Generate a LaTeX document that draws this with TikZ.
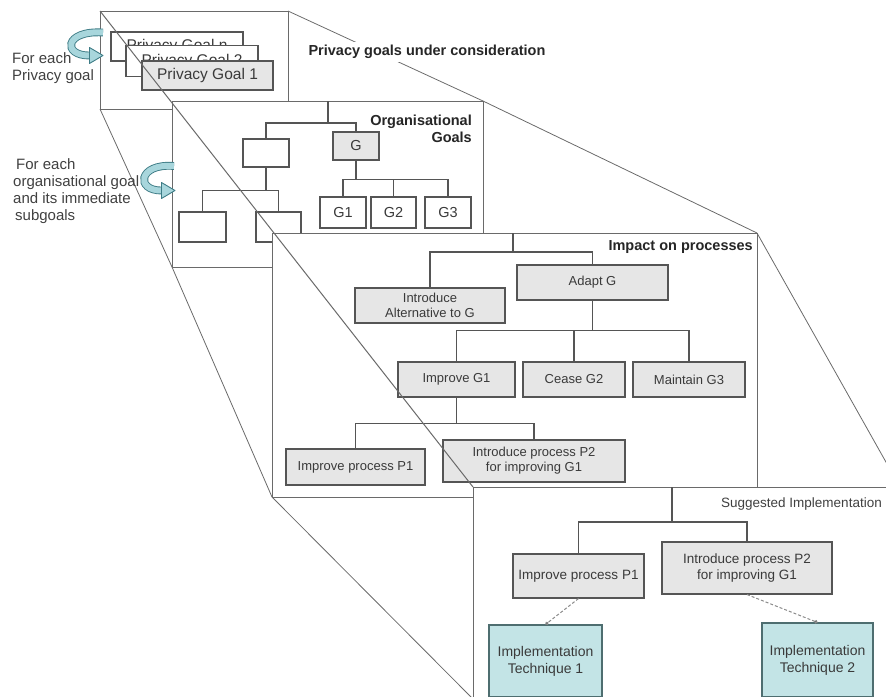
\documentclass[tikz,border=0pt]{standalone}
\usepackage{fontspec}
\setmainfont{Liberation Sans}
\usetikzlibrary{arrows.meta}

\definecolor{boxfill}{HTML}{E6E6E6}
\definecolor{boxline}{HTML}{555555}
\definecolor{panelline}{HTML}{6A6A6A}
\definecolor{txt}{HTML}{3A3A3A}
\definecolor{techfill}{HTML}{C3E4E6}
\definecolor{techline}{HTML}{4E6E70}
\definecolor{loopfill}{HTML}{A8D6DC}
\definecolor{loopline}{HTML}{3E7C86}

\tikzset{
  panel/.style={draw=panelline, fill=white, line width=1pt, inner sep=0pt, outer sep=0pt},
  proj/.style={draw=panelline, line width=0.8pt},
  link/.style={draw=boxline, line width=1.1pt},
  dashlink/.style={draw=black!45, line width=1pt, dash pattern=on 3pt off 2pt,
                   -{Circle[length=3.5pt, fill=black]}},
  gbox/.style={draw=boxline, fill=boxfill, line width=1.1pt, inner sep=0pt,
               align=center, text=txt, font=\fontsize{13}{15}\selectfont},
  wbox/.style={gbox, fill=white},
  bigtext/.style={font=\fontsize{15.5}{18}\selectfont},
  gtext/.style={font=\fontsize{14.5}{17}\selectfont},
  lowtext/.style={font=\fontsize{13.5}{16}\selectfont},
  tbox/.style={gbox, fill=techfill, draw=techline, font=\fontsize{14}{17}\selectfont},
  heading/.style={font=\bfseries\fontsize{14.5}{17}\selectfont, text=black!85, inner sep=1pt},
  sidenote/.style={font=\fontsize{15}{17}\selectfont, text=black!75, align=left, inner sep=0pt},
  loopband/.style={draw=loopline, line width=0.9pt, double=loopfill, double distance=6pt},
  loophead/.style={draw=loopline, fill=loopfill, line width=0.9pt, line join=round},
}

\begin{document}
\begin{tikzpicture}[x=1pt, y=-1pt]
\useasboundingbox (0,0) rectangle (886,696);
\clip (0,0) rectangle (886,696);

% ---------- privacy goals ----------
\node[panel, minimum width=188pt, minimum height=98pt] (pan1) at (194,60) {};
\node[wbox, bigtext, minimum width=132pt, minimum height=29pt] (pgn) at (177,46.5) {Privacy Goal n};
\node[wbox, bigtext, minimum width=132pt, minimum height=31pt] (pg2) at (192,61) {Privacy Goal 2};
\node[gbox, bigtext, minimum width=131pt, minimum height=29pt] (pg1) at (207.5,75.5) {Privacy Goal 1};

\node[sidenote, anchor=west] (note1) at (12,68.5) {For each\\Privacy goal};
\draw[loopband] (103,32.5) .. controls (64,30) and (62,56) .. (90,55.5);
\filldraw[loophead] (89.5,47.5) -- (103,55.5) -- (89.5,63.5) -- cycle;

% ---------- organisational goals ----------
\draw[proj] (pan1.north east) -- (483,101);
\draw[proj] (pan1.south west) -- (172,267);
\node[heading, fill=white, inner sep=3pt] (hprivacy) at (427,52) {Privacy goals under consideration};

\node[panel, minimum width=311pt, minimum height=166pt] (pan2) at (327.5,184) {};
\coordinate (top2) at (328,101);
\node[wbox, minimum width=46pt, minimum height=28pt] (lb1) at (266,153) {};
\node[gbox, gtext, minimum width=46pt, minimum height=28pt] (G) at (356,146) {G};
\node[wbox, minimum width=47pt, minimum height=30pt] (lb2) at (202.5,227) {};
\node[wbox, minimum width=45pt, minimum height=30pt] (lb3) at (278.5,227) {};
\node[wbox, gtext, minimum width=46pt, minimum height=31pt] (G1) at (343,212.5) {G1};
\node[wbox, gtext, minimum width=45pt, minimum height=31pt] (G2) at (393.5,212.5) {G2};
\node[wbox, gtext, minimum width=46pt, minimum height=31pt] (G3) at (448,212.5) {G3};
\draw[link] (top2) -- ++(0,22) -| (lb1.north);
\draw[link] (top2) -- ++(0,22) -| (G.north);
\draw[link] (lb1.south) -- ++(0,23) -| (lb2.north);
\draw[link] (lb1.south) -- ++(0,23) -| (lb3.north);
\draw[link] (G.south) -- ++(0,19) -| (G1.north);
\draw[link] (G.south) -- ++(0,19) -| (G2.north);
\draw[link] (G.south) -- ++(0,19) -| (G3.north);
\node[heading, align=right, anchor=east] (horg) at (473,128.5) {Organisational\\Goals};

\node[sidenote, anchor=west] (note2) at (13,191.5) {\hspace*{3pt}For each\\organisational goal\\and its immediate\\\hspace*{2pt}subgoals};
\draw[loopband] (174,166) .. controls (138,163) and (135,191) .. (162,190.5);
\filldraw[loophead] (161.5,182.5) -- (175,190.5) -- (161.5,198.5) -- cycle;

% ---------- impact on processes ----------
\draw[proj] (pan2.north east) -- (757,233);
\draw[proj] (pan2.south west) -- (272,497);

\node[panel, minimum width=485pt, minimum height=264pt] (pan3) at (514.5,365) {};
\coordinate (top3) at (513,233);
\node[gbox, minimum width=150pt, minimum height=35pt] (intro) at (430,305.5) {Introduce\\Alternative to G};
\node[gbox, minimum width=151pt, minimum height=35pt] (adapt) at (592.5,282.5) {Adapt G};
\node[gbox, minimum width=117pt, minimum height=35pt] (impG1) at (456.5,379.5) {Improve G1};
\node[gbox, minimum width=102pt, minimum height=35pt] (cease) at (574,379.5) {Cease G2};
\node[gbox, minimum width=112pt, minimum height=35pt] (maint) at (689,379.5) {Maintain G3};
\node[gbox, minimum width=139pt, minimum height=36pt] (impP1) at (355.5,467) {Improve process P1};
\node[gbox, minimum width=182pt, minimum height=42pt] (intP2) at (534,461) {Introduce process P2\\for improving G1};
\draw[link] (top3) -- ++(0,19) -| (intro.north);
\draw[link] (top3) -- ++(0,19) -| (adapt.north);
\draw[link] (adapt.south) -- ++(0,30) -| (impG1.north);
\draw[link] (adapt.south) -- ++(0,30) -| (cease.north);
\draw[link] (adapt.south) -- ++(0,30) -| (maint.north);
\draw[link] (impG1.south) -- ++(0,26) -| (impP1.north);
\draw[link] (impG1.south) -- ++(0,26) -| (intP2.north);
\node[heading, anchor=east] (himpact) at (754,247) {Impact on processes};

% ---------- suggested implementation ----------
\draw[proj] (pan3.north east) -- (900,487);
\draw[proj] (pan3.south west) -- (473,699);

\node[panel, minimum width=427pt, minimum height=212pt] (pan4) at (686.5,593) {};
\coordinate (top4) at (672,487);
\node[gbox, lowtext, minimum width=131pt, minimum height=44pt] (sP1) at (578.5,576) {Improve process P1};
\node[gbox, lowtext, minimum width=170pt, minimum height=52pt] (sP2) at (747,568) {Introduce process P2\\for improving G1};
\node[tbox, minimum width=113pt, minimum height=72pt] (tech1) at (545.5,661) {Implementation\\Technique 1};
\node[tbox, minimum width=111pt, minimum height=74pt] (tech2) at (817.5,660) {Implementation\\Technique 2};
\draw[link] (top4) -- ++(0,35) -| (sP1.north);
\draw[link] (top4) -- ++(0,35) -| (sP2.north);
\draw[dashlink] (sP1.south) -- (tech1.north);
\draw[dashlink] (sP2.south) -- (tech2.north);
\node[anchor=east, font=\fontsize{13.5}{16}\selectfont, text=black!75, inner sep=1pt] (hsugg) at (883,504) {Suggested Implementation};

% ---------- corner line through the stack ----------
\draw[proj, line width=1pt] (pan1.north west) -- (pan4.north west);
\end{tikzpicture}
\end{document}
